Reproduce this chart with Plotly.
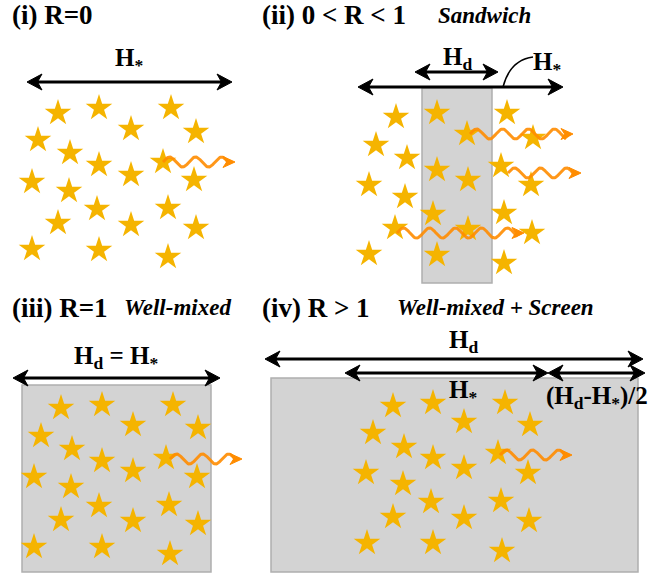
import numpy as np
import plotly.graph_objects as go

# ---- star positions (pixel coordinates of the diagram) ----
stars_i_x = [58, 99, 171, 131, 196, 38, 70, 99, 131, 163, 32, 194, 69, 97, 168, 58, 131, 196, 32, 99, 168]
stars_i_y = [113, 108, 108, 129, 132, 140, 153, 165, 175, 162, 182, 180, 191, 209, 208, 223, 225, 228, 249, 250, 257]

stars_ii_x = [396, 437, 507, 467, 533, 376, 407, 437, 468, 501, 369, 531, 405, 433, 504, 395, 468, 532, 369, 437, 504]
stars_ii_y = [117, 113, 113, 134, 138, 145, 158, 170, 180, 166, 185, 185, 197, 214, 213, 228, 229, 233, 254, 255, 263]

stars_iii_x = [61, 102, 173, 133, 198, 41, 72, 102, 133, 166, 34, 197, 71, 99, 169, 61, 133, 198, 34, 102, 170]
stars_iii_y = [408, 405, 405, 425, 428, 436, 449, 461, 471, 458, 477, 477, 487, 506, 505, 520, 521, 524, 547, 547, 554]

stars_iv_x = [393, 433, 505, 464, 530, 373, 404, 433, 464, 498, 366, 528, 403, 431, 501, 393, 464, 529, 367, 433, 502]
stars_iv_y = [406, 403, 403, 422, 425, 433, 447, 458, 468, 453, 473, 473, 484, 502, 501, 517, 518, 521, 543, 543, 551]

# wavy photon arrows: start x, end x, y
wave_x0 = [163, 470, 508, 397, 170, 500]
wave_x1 = [235, 573, 581, 524, 242, 572]
wave_y = [162, 134, 173, 233, 459, 455]

# dust slabs: x0, x1, y0, y1
slab_x0 = [422, 22, 271]
slab_x1 = [492, 211, 638]
slab_y0 = [88, 385, 378]
slab_y1 = [283, 572, 572]

# double arrows: x0, x1, y
arr_x0 = [27, 358, 415, 13, 265, 345, 548]
arr_x1 = [232, 563, 498, 220, 643, 548, 645]
arr_y = [82, 87, 72, 378, 359, 373, 373]

STAR = "#F5B400"
WAVE = "rgba(255,140,0,0.9)"
SERIF = "Liberation Serif, Times New Roman, Times, serif"

fig = go.Figure()

# slabs
for x0, x1, y0, y1 in zip(slab_x0, slab_x1, slab_y0, slab_y1):
    fig.add_shape(type="rect", x0=x0, x1=x1, y0=y0, y1=y1, xref="x", yref="y",
                  fillcolor="#D3D3D3", line=dict(color="#AFAFAF", width=1.5), layer="below")

# stars
for sx, sy in [(stars_i_x, stars_i_y), (stars_ii_x, stars_ii_y),
               (stars_iii_x, stars_iii_y), (stars_iv_x, stars_iv_y)]:
    fig.add_trace(go.Scatter(x=sx, y=sy, mode="markers", hoverinfo="skip",
                             marker=dict(symbol="star", size=20, color=STAR,
                                         line=dict(width=0))))


def head(x, y, direction, length, half, color):
    # barbed arrowhead pointing left (-1) or right (+1), tip at (x, y)
    d = direction
    p = (f"M {x} {y} L {x - d * length} {y - half} L {x - d * length * 0.7} {y} "
         f"L {x - d * length} {y + half} Z")
    fig.add_shape(type="path", path=p, xref="x", yref="y", fillcolor=color,
                  line=dict(color=color, width=1))


# waves
for x0, x1, y in zip(wave_x0, wave_x1, wave_y):
    xs = np.linspace(x0, x1 - 7, 120)
    ys = y - 5 * np.sin((xs - x0) / 26.0 * 2 * np.pi)
    fig.add_trace(go.Scatter(x=xs, y=ys, mode="lines", hoverinfo="skip",
                             line=dict(color=WAVE, width=3)))
    fig.add_shape(type="line", x0=x1 - 9, x1=x1 - 3, y0=ys[-1], y1=y, xref="x", yref="y",
                  line=dict(color=WAVE, width=3))
    head(x1, y, 1, 12, 5.5, "rgb(255,140,0)")

# double arrows
for x0, x1, y in zip(arr_x0, arr_x1, arr_y):
    fig.add_shape(type="line", x0=x0 + 6, x1=x1 - 6, y0=y, y1=y, xref="x", yref="y",
                  line=dict(color="black", width=3.2))
    head(x1, y, 1, 15, 8, "black")
    head(x0, y, -1, 15, 8, "black")

# leader curve for H* in panel ii
fig.add_shape(type="path", path="M 503 87 Q 510 60 533 57", xref="x", yref="y",
              line=dict(color="black", width=1.5))


def txt(x, y, s, size=27, italic=False, anchor="left"):
    fig.add_annotation(x=x, y=y, xref="x", yref="y", text=s, showarrow=False,
                       xanchor=anchor, yanchor="middle",
                       font=dict(family=SERIF, size=size, color="black", weight="bold",
                                 style="italic" if italic else "normal"))


STAR_SUB = "<sub>*</sub>"
D_SUB = "<sub>d</sub>"

# titles
txt(10, 15, "(i) R=0")
txt(260, 15, "(ii) 0 &lt; R &lt; 1")
txt(436, 15, "Sandwich", size=23, italic=True)
txt(10, 308, "(iii) R=1")
txt(122, 307, "Well-mixed", size=23, italic=True)
txt(260, 308, "(iv) R &gt; 1")
txt(395, 307, "Well-mixed + Screen", size=23, italic=True)

# dimension labels
LS = 25
txt(129, 59, "H" + STAR_SUB, size=LS, anchor="center")
txt(457, 58, "H" + D_SUB, size=LS, anchor="center")
txt(547, 63, "H" + STAR_SUB, size=LS, anchor="center")
txt(116, 357, "H" + D_SUB + " = H" + STAR_SUB, size=LS, anchor="center")
txt(463, 341, "H" + D_SUB, size=LS, anchor="center")
txt(463, 391, "H" + STAR_SUB, size=LS, anchor="center")
txt(597, 397, "(H" + D_SUB + "-H" + STAR_SUB + ")/2", size=LS, anchor="center")

fig.update_layout(
    width=671, height=576, margin=dict(l=0, r=0, t=0, b=0),
    plot_bgcolor="white", paper_bgcolor="white", showlegend=False,
    xaxis=dict(range=[0, 671], visible=False, fixedrange=True),
    yaxis=dict(range=[576, 0], visible=False, fixedrange=True),
)

fig.write_html("out.html", config={"displayModeBar": False},
               post_script="document.body.style.margin='0';")
